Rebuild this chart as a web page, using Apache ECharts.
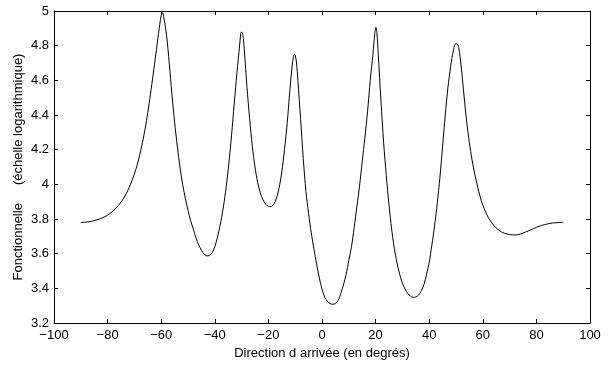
<!DOCTYPE html>
<html>
<head>
<meta charset="utf-8">
<script src="https://cdn.jsdelivr.net/npm/echarts@6/dist/echarts.min.js"></script>
<style>html,body{margin:0;padding:0;background:#fff;}#c{width:609px;height:365px;}</style>
</head>
<body>
<div id="c"></div>
<script>
// Direction (degrees)
const directions = [-90,-88,-86,-84,-82,-80,-78,-76,-74,-72,-70,-69,-68,-67,-66,-65,-64,-63,-62,-61,-60,-59.5,-59,-58,-57,-56,-55,-54,-53,-52,-51,-50,-49,-48,-47,-46,-45,-44,-43,-42,-41,-40,-39,-38,-37,-36,-35,-34,-33,-32,-31,-30.3,-30,-29.5,-29,-28,-27,-26,-25,-24,-23,-22,-21,-20,-19,-18,-17,-16,-15,-14,-13,-12,-11,-10.3,-10,-9.5,-9,-8,-7,-6,-5,-4,-3,-2,-1,0,1,2,3,4,5,6,7,8,9,10,11,12,13,14,15,16,17,18,19,19.7,20.1,20.5,21,22,23,24,25,26,27,28,29,30,31,32,33,34,35,36,37,38,39,40,41,42,43,44,45,46,47,48,49,49.8,50.3,51,52,53,54,55,56,57,58,59,60,62,64,66,68,70,72,74,76,78,80,82,84,86,88,90];
// Fonctionnelle (log scale)
const fonctionnelle = [3.780,3.782,3.787,3.795,3.806,3.822,3.845,3.878,3.920,3.980,4.060,4.110,4.170,4.240,4.320,4.415,4.520,4.635,4.750,4.870,4.975,4.990,4.960,4.860,4.700,4.520,4.360,4.220,4.100,4.000,3.920,3.850,3.790,3.740,3.690,3.650,3.620,3.598,3.587,3.590,3.605,3.640,3.695,3.765,3.850,3.955,4.085,4.240,4.420,4.600,4.760,4.870,4.880,4.860,4.780,4.560,4.380,4.220,4.100,4.010,3.950,3.910,3.885,3.873,3.872,3.885,3.920,3.980,4.070,4.200,4.350,4.540,4.700,4.750,4.745,4.700,4.600,4.380,4.150,3.960,3.830,3.720,3.625,3.540,3.460,3.395,3.350,3.325,3.312,3.308,3.312,3.330,3.370,3.420,3.480,3.560,3.640,3.750,3.870,3.990,4.130,4.270,4.420,4.600,4.750,4.870,4.905,4.870,4.750,4.480,4.240,4.050,3.880,3.740,3.630,3.545,3.480,3.430,3.395,3.370,3.355,3.348,3.350,3.360,3.385,3.420,3.480,3.550,3.650,3.760,3.890,4.040,4.220,4.400,4.560,4.680,4.770,4.810,4.810,4.790,4.670,4.510,4.360,4.240,4.140,4.060,3.990,3.930,3.880,3.810,3.765,3.735,3.718,3.710,3.708,3.713,3.725,3.738,3.752,3.763,3.771,3.777,3.779,3.781];

const xMin = -100, xMax = 100, xStep = 20;
const yMin = 3.2, yMax = 5, yStep = 0.2;
const xTitle = 'Direction d arrivée (en degrés)';
const yTitle = 'Fonctionnelle     (échelle logarithmique)';

const font = 'Liberation Sans, Arial, Helvetica, sans-serif';
const fmtX = v => (v < 0 ? '\u2212' + Math.abs(v) : String(v));
const fmtY = v => String(parseFloat(v.toFixed(1)));

const axisCommon = {
  axisLine: {show: true, onZero: false, lineStyle: {color: '#000', width: 1}},
  axisTick: {show: true, inside: true, length: 4, lineStyle: {color: '#000', width: 1}},
  splitLine: {show: false}
};

const chart = echarts.init(document.getElementById('c'), null, {renderer: 'canvas'});
chart.setOption({
  animation: false,
  backgroundColor: '#fff',
  grid: {left: 54, right: 19, top: 11, bottom: 42, containLabel: false},
  xAxis: [
    Object.assign({
      type: 'value', position: 'bottom', min: xMin, max: xMax, interval: xStep,
      name: xTitle, nameLocation: 'middle', nameGap: 24, nameMoveOverlap: false,
      nameTextStyle: {color: '#000', fontSize: 13, fontFamily: font},
      axisLabel: {color: '#000', fontSize: 13, fontFamily: font, margin: 6, formatter: fmtX}
    }, axisCommon),
    Object.assign({
      type: 'value', position: 'top', min: xMin, max: xMax, interval: xStep,
      axisLabel: {show: false}
    }, axisCommon)
  ],
  yAxis: [
    Object.assign({
      type: 'value', position: 'left', min: yMin, max: yMax, interval: yStep,
      name: yTitle, nameLocation: 'middle', nameGap: 29, nameRotate: 90, nameMoveOverlap: false,
      nameTextStyle: {color: '#000', fontSize: 13, fontFamily: font},
      axisLabel: {color: '#000', fontSize: 13, fontFamily: font, margin: 5, formatter: fmtY}
    }, axisCommon),
    Object.assign({
      type: 'value', position: 'right', min: yMin, max: yMax, interval: yStep,
      axisLabel: {show: false}
    }, axisCommon)
  ],
  series: [{
    type: 'line',
    xAxisIndex: 0, yAxisIndex: 0,
    data: directions.map((d, i) => [d, fonctionnelle[i]]),
    showSymbol: false,
    smooth: 0.3,
    lineStyle: {color: '#000', width: 1},
    clip: true
  }]
});
</script>
</body>
</html>
